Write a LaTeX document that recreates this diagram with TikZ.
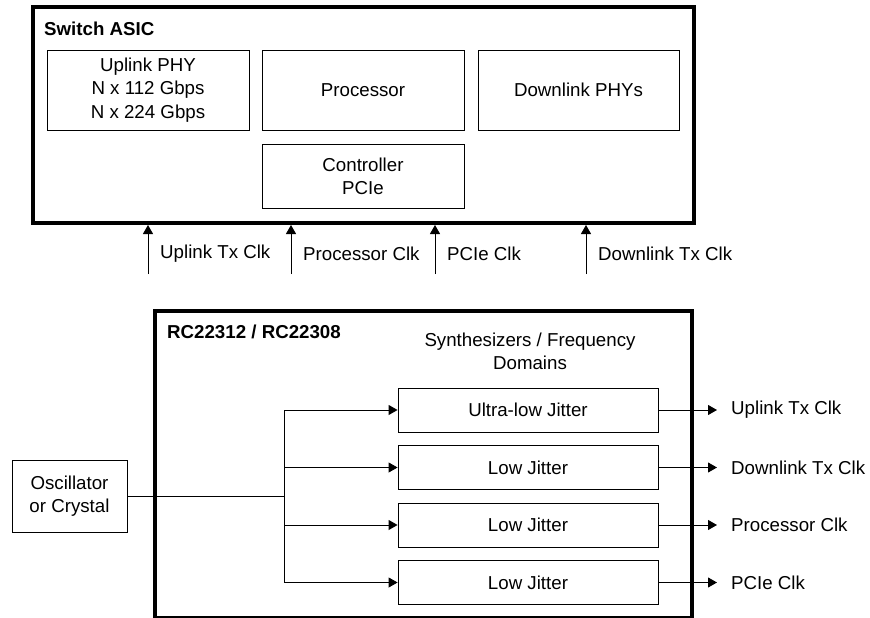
\documentclass[tikz,border=0pt]{standalone}
\usepackage{fontspec}
\setmainfont{Liberation Sans}
\usetikzlibrary{arrows.meta}

\tikzstyle{chip}=[draw,line width=4pt,inner sep=0pt]
\tikzstyle{block}=[draw,line width=0.9pt,align=center,inner sep=0pt]
\tikzstyle{synth}=[block,minimum width=260,minimum height=44]
\tikzstyle{clklabel}=[anchor=west,inner sep=2pt]
\tikzstyle{edge}=[draw,line width=0.9pt]
\tikzstyle{clk edge}=[draw,line width=0.9pt,-{Triangle[length=9pt,width=10pt]}]

\begin{document}
\begin{tikzpicture}[x=1pt,y=-1pt,font={\fontsize{18.7}{23.3}\selectfont}]
	\useasboundingbox (0,0) rectangle (870,618);
	% Switch ASIC and its blocks
	\node[chip,minimum width=661,minimum height=216] (asic) at (363.5,115) {};
	\node[anchor=west,inner sep=0pt] (asictitle) at (44,29) {\bfseries Switch ASIC};
	\node[block,minimum width=202,minimum height=80] (uplink) at (148,90) {Uplink PHY\\N x 112 Gbps\\N x 224 Gbps};
	\node[block,minimum width=202,minimum height=80] (proc) at (363,90) {Processor};
	\node[block,minimum width=201,minimum height=80] (down) at (578.5,90) {Downlink PHYs};
	\node[block,minimum width=202,minimum height=64] (ctrl) at (363,176) {Controller\\PCIe};
	% Clock inputs of the ASIC
	\foreach \name/\x/\txt in {upclk/148/Uplink Tx Clk, procclk/291/Processor Clk, pcieclk/435/PCIe Clk, downclk/586/Downlink Tx Clk} {
		\coordinate (\name) at (\x,274);
		\path[clk edge] (\name) -- (\name |- asic.south);
		\node[clklabel] (\name-txt) at (\x+10,254) {\txt};
	}
	% Clock generator
	\node[chip,minimum width=537,minimum height=307] (rc) at (423.5,464.5) {};
	\node[anchor=west,inner sep=0pt] (rctitle) at (167,332) {\bfseries RC22312 / RC22308};
	\node[align=center,inner sep=0pt] (synthtitle) at (530,351) {Synthesizers / Frequency\\Domains};
	\node[block,minimum width=115,minimum height=72] (osc) at (69.5,496.5) {Oscillator\\or Crystal};
	\coordinate (split) at (284,496.5);
	\path[edge] (osc) -- (split);
	% Synthesizers and their outputs
	\foreach \i/\y/\txt/\out in {1/410/Ultra-low Jitter/Uplink Tx Clk, 2/467.5/Low Jitter/Downlink Tx Clk, 3/525/Low Jitter/Processor Clk, 4/582.5/Low Jitter/PCIe Clk} {
		\node[synth] (syn\i) at (528,\y) {\txt};
		\path[clk edge] (split |- syn\i) -- (syn\i.west);
		\coordinate (out\i) at (717,\y);
		\path[clk edge] (syn\i.east) -- (out\i);
		\node[clklabel] (out\i-txt) at (729,\y) {\out};
	}
	\path[edge] (split |- syn1) -- (split |- syn4);
\end{tikzpicture}
\end{document}
